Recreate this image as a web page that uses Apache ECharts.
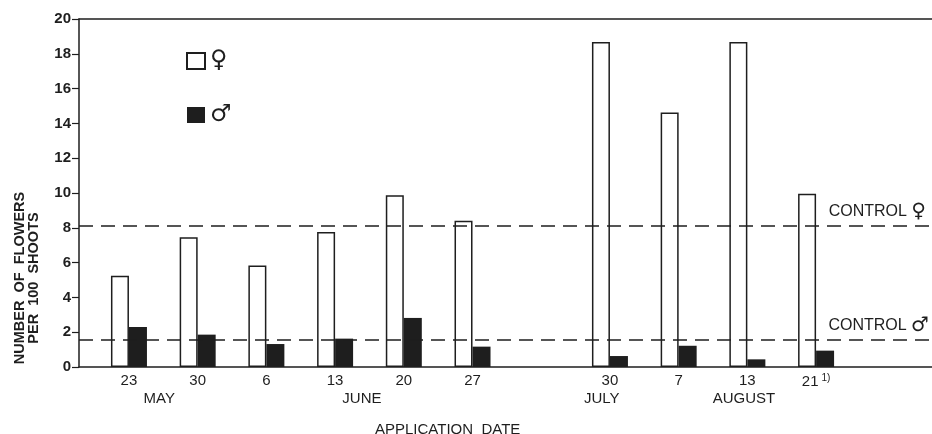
<!DOCTYPE html>
<html><head><meta charset="utf-8">
<script src="https://cdn.jsdelivr.net/npm/echarts@6/dist/echarts.min.js"></script>
<style>html,body{margin:0;padding:0;background:#fff}#c{width:932px;height:434px}</style>
</head><body><div id="c"></div>
<script>
// Data
const dateLabels = ['23','30','6','13','20','27','30','7','13','21'];
const slotIndex = [0,1,2,3,4,5,7,8,9,10];
const femaleValues = [5.25,7.45,5.84,7.76,9.87,8.41,18.68,14.62,18.68,9.96];
const maleValues = [2.30,1.86,1.32,1.63,2.82,1.17,0.63,1.22,0.44,0.94];
const monthLabels = ['MAY','JUNE','JULY','AUGUST'];
const monthSlots = [0.44,3.39,6.88,8.95];
const controlFemale = 8.12;
const controlMale = 1.57;
const seriesNames = ['\u2640','\u2642'];

const ink = '#1e1e1e';
const font = '"Liberation Sans", Arial, sans-serif';
const symFont = '"DejaVu Sans", "Liberation Sans", sans-serif';
const xMin = -0.727, xMax = 11.687;

const chart = echarts.init(document.getElementById('c'), null, {renderer:'canvas'});
chart.setOption({
  animation:false,
  backgroundColor:'#fff',
  title:{text:'APPLICATION  DATE', left:370, top:417,
    textStyle:{fontFamily:font, fontSize:15, fontWeight:'normal', color:ink}},
  legend:{orient:'vertical', left:181, top:44, itemWidth:18, itemHeight:16, itemGap:30, icon:'rect',
    data:seriesNames, textStyle:{fontFamily:symFont, fontSize:24, fontWeight:'bold', color:ink}},
  graphic:[{type:'text', x:27, y:278, rotation:Math.PI/2,
    style:{text:'NUMBER  OF  FLOWERS\nPER  100  SHOOTS', fontFamily:font, fontSize:14.5, fontWeight:'bold',
      fill:ink, align:'center', verticalAlign:'middle', lineHeight:14}}],
  grid:{left:79, right:0, top:19, bottom:67},
  xAxis:[
    {type:'value', position:'bottom', min:xMin, max:xMax,
     axisLine:{show:true, onZero:false, lineStyle:{color:ink, width:1.5}},
     axisTick:{show:false}, splitLine:{show:false},
     axisLabel:{customValues:slotIndex, margin:6, fontFamily:font, fontSize:15, color:ink,
       formatter:function(v){const i=slotIndex.indexOf(Math.round(v)); const t=dateLabels[i]; return i===dateLabels.length-1 ? t+'{sup|1)}' : t;},
       rich:{sup:{fontSize:10, fontFamily:font, color:ink, verticalAlign:'top', padding:[0,0,8,3]}}}},
    {type:'value', position:'bottom', min:xMin, max:xMax,
     axisLine:{show:false}, axisTick:{show:false}, splitLine:{show:false},
     axisLabel:{customValues:monthSlots, margin:24, fontFamily:font, fontSize:15, color:ink,
       formatter:function(v){let best=0; monthSlots.forEach((m,i)=>{if(Math.abs(m-v)<Math.abs(monthSlots[best]-v)) best=i;}); return monthLabels[best];}}},
    {type:'value', position:'top', min:xMin, max:xMax,
     axisLine:{show:true, onZero:false, lineStyle:{color:ink, width:1.5}},
     axisTick:{show:false}, axisLabel:{show:false}, splitLine:{show:false}}
  ],
  yAxis:{type:'value', min:0, max:20, interval:2,
    axisLine:{show:true, onZero:false, lineStyle:{color:ink, width:1.5}},
    axisTick:{show:true, inside:false, length:7, lineStyle:{color:ink, width:1.2}},
    splitLine:{show:false},
    axisLabel:{margin:8, fontFamily:font, fontSize:15, fontWeight:'bold', color:ink, padding:[0,0,6,0]}},
  series:[
    {name:seriesNames[0], type:'bar', xAxisIndex:0, barWidth:18, barGap:'0%',
     data:slotIndex.map((x,i)=>[x,femaleValues[i]]),
     itemStyle:{color:'#fff', borderColor:ink, borderWidth:1.5},
     markLine:{silent:true, symbol:['none','none'],
       lineStyle:{color:ink, type:[14,8], width:1.5},
       label:{position:'insideEndTop', formatter:'CONTROL {s|\u2640}', fontFamily:font, fontSize:16, color:ink, distance:[6,4],
         rich:{s:{fontFamily:symFont, fontSize:20, fontWeight:'bold', color:ink}}},
       data:[{yAxis:controlFemale}]}},
    {name:seriesNames[1], type:'bar', xAxisIndex:0, barWidth:18, barGap:'0%',
     data:slotIndex.map((x,i)=>[x,maleValues[i]]),
     itemStyle:{color:ink},
     markLine:{silent:true, symbol:['none','none'],
       lineStyle:{color:ink, type:[14,8], width:1.5},
       label:{position:'insideEndTop', formatter:'CONTROL {s|\u2642}', fontFamily:font, fontSize:16, color:ink, distance:[3,4],
         rich:{s:{fontFamily:symFont, fontSize:20, fontWeight:'bold', color:ink}}},
       data:[{yAxis:controlMale}]}}
  ]
});
</script></body></html>
